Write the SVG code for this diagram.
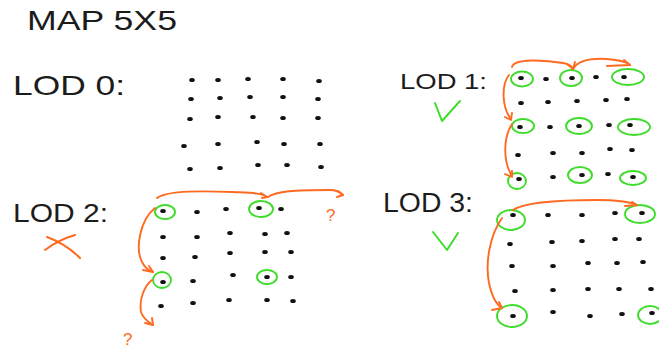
<svg xmlns="http://www.w3.org/2000/svg" width="659" height="350" viewBox="0 0 659 350">
  <defs>
    <style>
      .lbl { font-family: "Liberation Sans", Arial, sans-serif; fill: #1c1c1c; }
      .dot { fill: #111; }
      .ring { fill: none; stroke: #3fdc2c; stroke-width: 1.9; }
      .tick { fill: none; stroke: #3fdc2c; stroke-width: 2; stroke-linecap: round; stroke-linejoin: round; }
      .arrow { fill: none; stroke: #ff6a21; stroke-width: 1.9; stroke-linecap: round; stroke-linejoin: round; }
      .mark { fill: none; stroke: #ff6a21; stroke-width: 2; stroke-linecap: round; }
      .qm { font-family: "Liberation Sans", Arial, sans-serif; fill: #ff6a21; font-size: 17px; }
    </style>
    <ellipse id="d" cx="0" cy="0" rx="2.8" ry="2.1"/>
  </defs>

  <rect width="659" height="350" fill="#fff"/>

  <text class="lbl" x="27" y="30" font-size="27" textLength="150" lengthAdjust="spacingAndGlyphs">MAP 5X5</text>

  <!-- LOD 0 panel -->
  <g id="lod0">
    <text class="lbl" x="13" y="95" font-size="28" textLength="112" lengthAdjust="spacingAndGlyphs">LOD 0:</text>
    <g class="dot">
      <use href="#d" x="192" y="80"/><use href="#d" x="218" y="80"/><use href="#d" x="248" y="79"/><use href="#d" x="283" y="79"/><use href="#d" x="319" y="81"/>
      <use href="#d" x="191" y="99"/><use href="#d" x="220" y="98"/><use href="#d" x="250" y="97"/><use href="#d" x="283" y="97"/><use href="#d" x="318" y="99"/>
      <use href="#d" x="190" y="119"/><use href="#d" x="218" y="117"/><use href="#d" x="253" y="117"/><use href="#d" x="283" y="118"/><use href="#d" x="318" y="118"/>
      <use href="#d" x="184" y="146"/><use href="#d" x="218" y="144"/><use href="#d" x="257" y="142"/><use href="#d" x="284" y="144"/><use href="#d" x="320" y="144"/>
      <use href="#d" x="190" y="169"/><use href="#d" x="220" y="168"/><use href="#d" x="258" y="165"/><use href="#d" x="287" y="165"/><use href="#d" x="321" y="167"/>
    </g>
  </g>

  <!-- LOD 1 panel -->
  <g id="lod1">
    <text class="lbl" x="400" y="89" font-size="22" textLength="87" lengthAdjust="spacingAndGlyphs">LOD 1:</text>
    <polyline class="tick" points="435,103 442,121 460,101"/>
    <g class="dot">
      <use href="#d" x="521" y="78"/><use href="#d" x="546" y="79"/><use href="#d" x="572" y="78"/><use href="#d" x="596" y="77"/><use href="#d" x="624" y="77"/>
      <use href="#d" x="521" y="103"/><use href="#d" x="548" y="102"/><use href="#d" x="577" y="101"/><use href="#d" x="606" y="100"/><use href="#d" x="627" y="99"/>
      <use href="#d" x="520" y="127"/><use href="#d" x="550" y="127"/><use href="#d" x="579" y="126"/><use href="#d" x="609" y="125"/><use href="#d" x="630" y="125"/>
      <use href="#d" x="518" y="155"/><use href="#d" x="553" y="153"/><use href="#d" x="582" y="153"/><use href="#d" x="610" y="149"/><use href="#d" x="632" y="150"/>
      <use href="#d" x="519" y="179"/><use href="#d" x="553" y="177"/><use href="#d" x="582" y="175"/><use href="#d" x="608" y="174"/><use href="#d" x="633" y="177"/>
    </g>
    <g class="ring">
      <ellipse cx="522" cy="79" rx="11" ry="7.5"/>
      <ellipse cx="571" cy="78" rx="11" ry="8"/>
      <ellipse cx="628" cy="77" rx="16" ry="8"/>
      <ellipse cx="523" cy="126" rx="11" ry="7"/>
      <ellipse cx="579" cy="126" rx="13" ry="8"/>
      <ellipse cx="634" cy="127" rx="16" ry="8"/>
      <ellipse cx="517" cy="181" rx="9" ry="8"/>
      <ellipse cx="580" cy="175" rx="12" ry="8"/>
      <ellipse cx="633" cy="178" rx="13" ry="7"/>
    </g>
  </g>

  <!-- LOD 2 panel -->
  <g id="lod2">
    <text class="lbl" x="13" y="222" font-size="26" textLength="95" lengthAdjust="spacingAndGlyphs">LOD 2:</text>
    <path class="mark" d="M47,237 Q66,244 80,258 M45,250 Q58,240 75,235"/>
    <g class="dot">
      <use href="#d" x="163" y="211"/><use href="#d" x="197" y="212"/><use href="#d" x="226" y="209"/><use href="#d" x="259" y="208"/><use href="#d" x="281" y="209"/>
      <use href="#d" x="163" y="237"/><use href="#d" x="197" y="237"/><use href="#d" x="230" y="233"/><use href="#d" x="265" y="234"/><use href="#d" x="287" y="233"/>
      <use href="#d" x="163" y="258"/><use href="#d" x="195" y="257"/><use href="#d" x="230" y="253"/><use href="#d" x="265" y="252"/><use href="#d" x="291" y="252"/>
      <use href="#d" x="163" y="282"/><use href="#d" x="193" y="281"/><use href="#d" x="233" y="275"/><use href="#d" x="267" y="277"/><use href="#d" x="291" y="277"/>
      <use href="#d" x="161" y="306"/><use href="#d" x="193" y="303"/><use href="#d" x="229" y="300"/><use href="#d" x="267" y="300"/><use href="#d" x="293" y="301"/>
    </g>
    <g class="ring">
      <ellipse cx="165" cy="212" rx="10" ry="7"/>
      <ellipse cx="261" cy="209" rx="12" ry="8"/>
      <ellipse cx="162" cy="280" rx="9" ry="8"/>
      <ellipse cx="267" cy="277" rx="10" ry="7"/>
    </g>
    <text class="qm" x="326" y="221">?</text>
    <text class="qm" x="123" y="345">?</text>
  </g>

  <!-- LOD 3 panel -->
  <g id="lod3">
    <text class="lbl" x="383" y="212" font-size="27" textLength="90" lengthAdjust="spacingAndGlyphs">LOD 3:</text>
    <polyline class="tick" points="433,232 447,250 458,233"/>
    <g class="dot">
      <use href="#d" x="513" y="215"/><use href="#d" x="548" y="215"/><use href="#d" x="582" y="215"/><use href="#d" x="615" y="213"/><use href="#d" x="642" y="213"/>
      <use href="#d" x="510" y="244"/><use href="#d" x="552" y="242"/><use href="#d" x="582" y="241"/><use href="#d" x="615" y="239"/><use href="#d" x="639" y="239"/>
      <use href="#d" x="512" y="266"/><use href="#d" x="553" y="266"/><use href="#d" x="588" y="263"/><use href="#d" x="617" y="263"/><use href="#d" x="643" y="262"/>
      <use href="#d" x="515" y="291"/><use href="#d" x="553" y="290"/><use href="#d" x="588" y="289"/><use href="#d" x="619" y="289"/><use href="#d" x="651" y="289"/>
      <use href="#d" x="513" y="316"/><use href="#d" x="553" y="312"/><use href="#d" x="590" y="316"/><use href="#d" x="622" y="314"/><use href="#d" x="652" y="313"/>
    </g>
    <g class="ring">
      <ellipse cx="511" cy="220" rx="14" ry="10"/>
      <ellipse cx="640" cy="214" rx="15" ry="9"/>
      <ellipse cx="512" cy="316" rx="15" ry="11"/>
      <ellipse cx="650" cy="315" rx="12" ry="9"/>
    </g>
  </g>

  <!-- traversal arrows -->
  <g id="connectors" class="arrow">
    <!-- LOD 1 -->
    <path d="M512,67 C514,58 545,60 563,63 C569,64 572,66 573,69"/>
    <path d="M567,64 L573,69 L575,62"/>
    <path d="M573,69 C578,60 590,58 607,59 C618,60 626,61 630,65"/>
    <path d="M607,66 L630,65 L624,60"/>
    <path d="M509,75 C501,85 502,108 511,119"/>
    <path d="M505,117 L511,120 L512,113"/>
    <path d="M512,124 C503,138 503,162 512,176"/>
    <path d="M505,174 L512,177 L512,171"/>
    <!-- LOD 2 -->
    <path d="M157,198 C168,190 205,191 233,192 C252,193 262,193 267,197"/>
    <path d="M261,193 L267,197 L262,198"/>
    <path d="M268,197 C276,191 295,190 330,190 C336,190 340,192 343,195"/>
    <path d="M338,191 L343,195 L337,197"/>
    <path d="M155,208 C140,220 135,248 142,262 C145,268 150,271 153,272"/>
    <path d="M143,270 L153,272 L149,266"/>
    <path d="M152,280 C144,286 139,300 141,312 C143,318 148,322 153,325"/>
    <path d="M145,323 L153,325 L152,318"/>
    <!-- LOD 3 -->
    <path d="M513,210 C525,202 560,200 597,200 C618,200 630,202 637,205"/>
    <path d="M625,206 L637,205 L632,202"/>
    <path d="M502,218 C490,235 485,262 489,283 C492,297 497,305 502,308"/>
    <path d="M492,310 L502,308 L499,302"/>
  </g>
</svg>
